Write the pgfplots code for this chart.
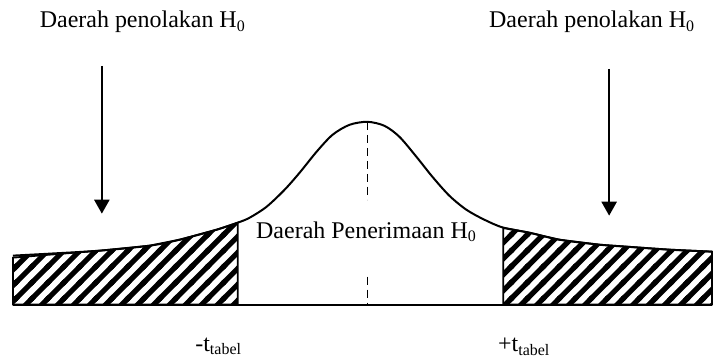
\documentclass[border=0pt]{standalone}
\usepackage{fontspec}
\setmainfont{Liberation Serif}
\usepackage{pgfplots}
\pgfplotsset{compat=1.18}
\usetikzlibrary{arrows.meta, patterns.meta}

% thick diagonal hatching, as in the scan
\tikzdeclarepattern{
  name=thickhatch,
  type=uncolored,
  bounding box={(-1pt,-1pt) and (9pt,9pt)},
  tile size={(8pt,8pt)},
  code={
    \pgfsetlinewidth{2.6pt}
    \pgfpathmoveto{\pgfqpoint{-1pt}{-1pt}}\pgfpathlineto{\pgfqpoint{9pt}{9pt}}
    \pgfpathmoveto{\pgfqpoint{-1pt}{7pt}}\pgfpathlineto{\pgfqpoint{1pt}{9pt}}
    \pgfpathmoveto{\pgfqpoint{7pt}{-1pt}}\pgfpathlineto{\pgfqpoint{9pt}{1pt}}
    \pgfusepath{stroke}
  }
}

\begin{document}
\begin{tikzpicture}
\begin{axis}[
  x=0.5pt, y=0.5pt, y dir=reverse,
  xmin=0, xmax=713, ymin=0, ymax=363,
  axis lines=none, clip=false,
  font=\fontsize{12}{14}\selectfont,
]
  % invisible frame so the page covers the whole 713x363 area
  \addplot[draw=none] coordinates {(0,0) (713,363)};
  % hatched rejection regions
  \addplot[draw=black, line width=0.9pt, pattern=thickhatch] coordinates {
    (13,305) (13,258) (50,255) (100,251) (150,246) (180,240) (217,230) (238,223) (238,305)
  } -- cycle;
  \addplot[draw=black, line width=0.9pt, pattern=thickhatch] coordinates {
    (504,305) (504,228) (530,233) (560,240) (600,245) (627,247) (670,250) (713,252) (713,305)
  } -- cycle;
  % density curve
  \addplot[black, line width=1pt, smooth] coordinates {
    (13,256) (50,254) (100,251) (150,246) (180,240) (217,230) (238,223)
    (250,218) (267,207) (285,190) (300,173) (317,152) (333,135) (350,125)
    (368,122) (385,126) (400,137) (417,157) (433,177) (450,196) (467,210)
    (485,220) (504,228) (530,233) (560,240) (600,245) (627,247) (670,250) (713,252)
  };
  % baseline
  \addplot[black, line width=1pt] coordinates {(13,305) (713,305)};
  % centre line
  \addplot[black, line width=0.9pt, dash pattern=on 4pt off 2.5pt] coordinates {(368,122) (368,200)};
  \addplot[black, line width=0.9pt, dash pattern=on 4pt off 2.5pt] coordinates {(368,277) (368,305)};
  % arrows
  \addplot[black, line width=1.2pt, -{Triangle[length=7pt, width=7.5pt]}] coordinates {(102,66) (102,214)};
  \addplot[black, line width=1.2pt, -{Triangle[length=7pt, width=7.5pt]}] coordinates {(610,69) (610,216)};
  % labels
  \node at (axis cs:143,22) {Daerah penolakan H\textsubscript{0}};
  \node at (axis cs:593,22) {Daerah penolakan H\textsubscript{0}};
  \node at (axis cs:367,232) {Daerah Penerimaan H\textsubscript{0}};
  \node at (axis cs:219,347) {-t\textsubscript{tabel}};
  \node at (axis cs:525,347) {+t\textsubscript{tabel}};
\end{axis}
\end{tikzpicture}
\end{document}
